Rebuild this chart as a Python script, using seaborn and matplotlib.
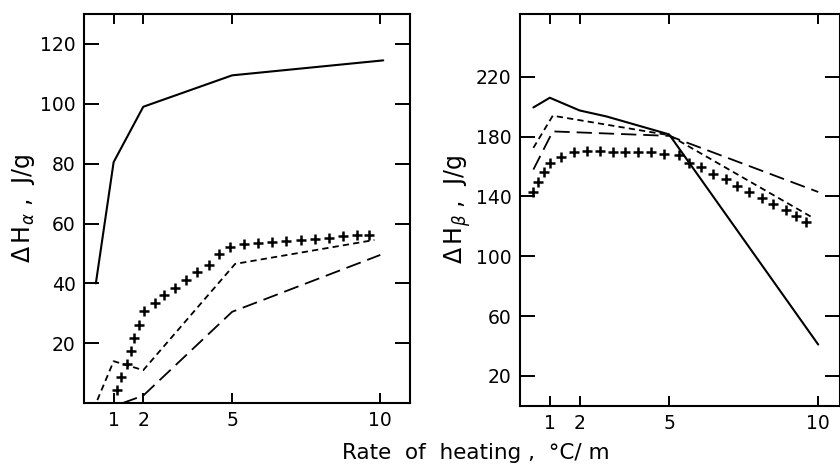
import matplotlib
matplotlib.use('Agg')
import matplotlib.pyplot as plt
import seaborn as sns

# Left panel: delta H alpha (J/g) vs rate of heating
a_solid_x = [0.4, 1.0, 2.0, 5.0, 10.1]
a_solid_y = [40, 80.5, 99, 109.5, 114.5]
a_short_x = [0.45, 1.0, 2.0, 5.1, 9.8]
a_short_y = [1, 14, 11, 46.5, 54.5]
a_long_x = [1.3, 2.0, 5.0, 10.0]
a_long_y = [0, 2.5, 30.5, 49.5]
a_plus_x = [1.12, 1.26, 1.44, 1.59, 1.70, 1.87, 2.04, 2.39, 2.71, 3.08, 3.44, 3.83,
            4.21, 4.56, 4.93, 5.41, 5.88, 6.36, 6.83, 7.32, 7.78, 8.26, 8.73, 9.20, 9.62]
a_plus_y = [4.3, 8.8, 12.9, 17.4, 21.9, 26, 30.8, 33.4, 36.1, 38.5, 41.2, 43.8,
            46.3, 49.7, 52.1, 53.0, 53.5, 53.9, 54.3, 54.6, 54.9, 55.2, 55.7, 56.0, 56.0]

# Right panel: delta H beta (J/g)
b_solid_x = [0.45, 1.0, 2.0, 2.9, 5.0, 10.0]
b_solid_y = [199.5, 206, 197.5, 193.5, 181.5, 41]
b_short_x = [0.45, 1.1, 5.0, 9.8]
b_short_y = [172.5, 194, 181, 126]
b_long_x = [0.45, 1.1, 5.0, 10.0]
b_long_y = [158, 183.5, 180.5, 143]
b_plus_x = [0.44, 0.61, 0.80, 1.0, 1.39, 1.81, 2.25, 2.68, 3.12, 3.52, 3.96, 4.41,
            4.83, 5.33, 5.66, 6.07, 6.48, 6.91, 7.29, 7.69, 8.10, 8.49, 8.91, 9.26, 9.59]
b_plus_y = [142.7, 149.4, 156.1, 162.3, 166.1, 169.8, 170.3, 170.3, 169.8, 169.8, 169.4, 169.4,
            168.3, 167.6, 162.3, 159.4, 154.9, 151.6, 147.1, 143.1, 139.3, 134.8, 131.0, 127.0, 122.6]

x_ticks = [1, 2, 5, 10]
x_ticklabels = ['1', '2', '5', '10']
a_yticks = [20, 40, 60, 80, 100, 120]
b_yticks = [20, 60, 100, 140, 180, 220]

sns.set_style('ticks')
plt.rcParams['font.family'] = ['DejaVu Sans']
plt.rcParams['lines.scale_dashes'] = False
plt.rcParams['text.color'] = 'k'
plt.rcParams['axes.labelcolor'] = 'k'

fig = plt.figure(figsize=(8.4, 4.66), dpi=100)
ax1 = fig.add_axes([0.1, 0.135, 0.388, 0.835])
ax2 = fig.add_axes([0.619, 0.129, 0.381, 0.841])

short_dash = (0, (4.5, 3))
long_dash = (0, (11, 5))


def draw(ax, sx, sy, hx, hy, lx, ly, px, py):
    sns.lineplot(x=sx, y=sy, ax=ax, color='k', lw=1.5, errorbar=None)
    sns.lineplot(x=hx, y=hy, ax=ax, color='k', lw=1.3, linestyle=short_dash, errorbar=None)
    sns.lineplot(x=lx, y=ly, ax=ax, color='k', lw=1.3, linestyle=long_dash, errorbar=None)
    sns.scatterplot(x=px, y=py, ax=ax, color='k', marker='+', s=60, linewidth=1.8)
    ax.set_xticks(x_ticks)
    ax.set_xticklabels(x_ticklabels)
    ax.tick_params(axis='both', which='major', direction='in', top=True, right=True,
                   labelsize=13.5, width=1.4, length=7, pad=6, colors='k')
    ax.tick_params(axis='y', length=11)
    for s in ax.spines.values():
        s.set_linewidth(1.5)
        s.set_color('k')


draw(ax1, a_solid_x, a_solid_y, a_short_x, a_short_y, a_long_x, a_long_y, a_plus_x, a_plus_y)
ax1.set_xlim(0, 11)
ax1.set_ylim(0, 130)
ax1.set_yticks(a_yticks)
ax1.set_ylabel(r'$\Delta\,\mathrm{H}_{\alpha}$ ,  J/g', fontsize=17, labelpad=2)

draw(ax2, b_solid_x, b_solid_y, b_short_x, b_short_y, b_long_x, b_long_y, b_plus_x, b_plus_y)
ax2.set_xlim(0, 10.73)
ax2.set_ylim(0, 262)
ax2.set_yticks(b_yticks)
ax2.set_ylabel(r'$\Delta\,\mathrm{H}_{\beta}$ ,  J/g', fontsize=17, labelpad=2)

fig.text(0.567, 0.028, 'Rate  of  heating ,  °C/ m', ha='center', va='center', fontsize=15.5)

fig.savefig('out.png', dpi=100)
